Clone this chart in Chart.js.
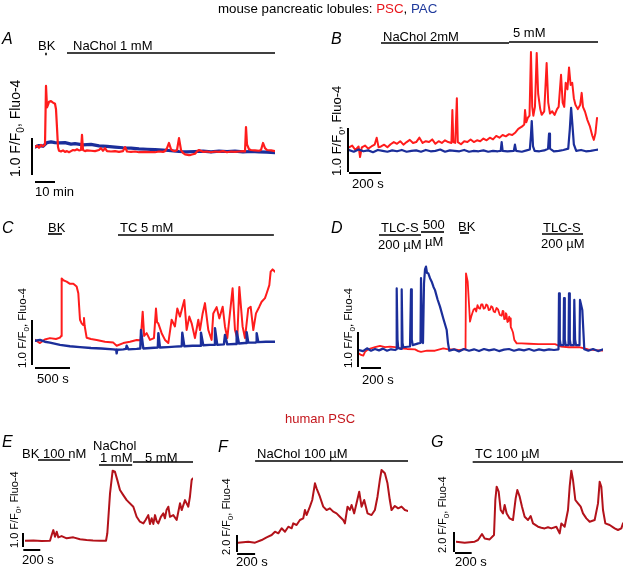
<!DOCTYPE html>
<html>
<head>
<meta charset="utf-8">
<title>PSC / PAC Ca2+ traces</title>
<script src="https://cdn.jsdelivr.net/npm/chart.js@4.4.1/dist/chart.umd.min.js"></script>
<style>
  html, body { margin: 0; padding: 0; background: #fff; }
  #fig { position: relative; width: 633px; height: 575px; }
  #fig canvas { position: absolute; left: 0; top: 0; }
</style>
</head>
<body>
<div id="fig"></div>
<script>
// ---- data: time (A in min, others in s) and F/F0 values ----

// A: NaChol 1 mM, mouse lobule
const aPscT = [0,1,2,3,4,5,5.5,6,6.5,7,8,9,10,10.5,11,11.5,12,13,14,15,16,17,18,19,20,21,22,23,23.5,24,25,26,28,30,32,33,34,35,36,38,40,42,44,45,46,48,50,52,55,58,60,62,64,65,66,67,68,69,70,71,72,73,74,75,77,78,80,81,82,84,86,88,90,92,94,96,98,100,102,104,105,105.5,106,107,108,110,112,113,114,115,116,118,120];
const aPsc  = [1.08,1.12,1.06,1.14,1.1,1.15,2.73,2.15,2.22,2.3,2.32,2.28,2.25,2.1,1.6,1.08,0.98,0.96,0.99,0.95,0.97,0.94,0.97,1.0,0.99,1.02,0.99,1.0,1.41,1.0,0.97,0.99,0.98,0.97,1.0,1.05,0.98,1.05,0.97,0.96,0.97,0.95,0.97,1.08,0.96,0.95,0.96,0.94,0.95,0.94,0.94,0.96,0.95,0.97,1.05,1.19,1.02,0.98,0.97,1.0,1.32,1.0,0.92,0.88,0.86,0.87,0.9,0.96,1.0,0.95,0.96,0.94,0.96,0.95,0.97,0.94,0.96,0.95,0.96,0.97,0.96,1.62,1.15,1.02,1.0,0.99,0.98,1.0,1.19,1.05,1.0,0.99,0.97];
const aPacT = [0,2,4,6,8,10,12,15,18,20,24,28,32,36,40,44,48,52,56,60,64,68,72,76,80,84,88,92,96,100,104,108,112,116,120];
const aPac  = [1.08,1.12,1.1,1.2,1.22,1.2,1.19,1.2,1.16,1.17,1.14,1.15,1.11,1.1,1.08,1.06,1.05,1.03,1.02,1.01,1.0,0.98,0.96,0.95,0.96,0.97,0.95,0.97,0.96,0.97,0.95,0.96,0.95,0.94,0.93];

// B: NaChol 2 mM then 5 mM
const bPscT = [0,20,40,60,69,80,100,120,140,160,173,185,200,220,240,260,280,300,320,340,360,380,400,420,440,460,480,500,520,540,560,580,600,620,640,646,652,664,674,680,700,720,740,760,780,800,820,840,860,880,900,920,940,960,980,1000,1020,1040,1058,1080,1095,1100,1108,1117,1128,1137,1145,1152,1162,1173,1182,1195,1204,1220,1235,1245,1256,1270,1285,1300,1310,1325,1335,1345,1354,1365,1375,1385,1395,1405,1415,1430,1445,1454,1462,1475,1490,1506,1520,1530,1540,1550];
const bPsc  = [1.08,1.12,1.02,1.1,0.86,1.08,1.12,1.05,1.1,1.14,1.3,1.08,1.1,1.14,1.08,1.15,1.2,1.16,1.22,1.14,1.2,1.25,1.18,1.2,1.3,1.18,1.22,1.2,1.26,1.16,1.22,1.18,1.24,1.2,1.18,1.93,1.2,1.18,2.2,1.2,1.15,1.22,1.2,1.26,1.2,1.24,1.22,1.28,1.24,1.3,1.26,1.34,1.3,1.36,1.33,1.38,1.36,1.42,1.5,1.55,1.6,1.93,1.65,1.75,1.8,3.25,2.0,1.8,2.0,3.23,2.3,1.95,1.82,1.9,3.0,2.1,1.85,1.9,1.82,1.95,2.0,2.73,2.1,2.0,2.55,2.4,2.9,2.5,2.55,2.2,2.05,1.95,2.05,2.32,2.0,1.89,1.7,1.55,1.35,1.25,1.4,1.75];
const bPacT = [0,30,60,90,120,150,180,210,240,270,300,330,360,390,420,450,480,510,540,570,600,630,660,690,720,750,780,810,840,870,900,930,948,954,960,990,1030,1037,1044,1080,1110,1130,1137,1142,1150,1160,1190,1220,1244,1250,1256,1280,1310,1340,1370,1380,1388,1396,1405,1420,1450,1480,1510,1540,1556];
const bPac  = [1.02,0.98,1.03,0.99,1.01,0.97,1.02,1.0,0.98,1.01,0.99,1.02,0.98,1.0,1.01,0.98,1.02,0.99,1.0,1.03,0.98,1.01,1.0,0.99,1.02,0.98,1.0,0.99,1.01,0.98,1.0,0.99,1.0,1.2,1.0,0.99,1.0,1.14,1.0,0.98,1.01,1.03,1.35,1.68,1.1,1.0,0.99,1.01,1.05,1.39,1.05,0.99,1.0,1.02,1.05,1.5,1.98,1.6,1.15,1.0,1.02,0.99,1.0,1.02,1.03];

// C: BK then TC 5 mM
const cPscT = [0,71,140,214,300,357,375,381,405,452,500,548,595,619,643,667,690,700,710,738,800,881,1000,1119,1167,1262,1357,1453,1510,1539,1560,1596,1643,1700,1729,1745,1762,1810,1858,1905,1953,2000,2034,2072,2134,2167,2205,2239,2286,2334,2358,2396,2429,2477,2524,2548,2596,2634,2682,2715,2748,2786,2824,2858,2891,2920,2967,3001,3048,3082,3120,3158,3206,3239,3287,3311,3349,3368,3396,3430];
const cPsc  = [1.11,1.04,1.12,1.15,1.13,1.16,1.2,2.48,2.44,2.41,2.36,2.36,2.3,2.15,1.56,1.48,1.44,1.6,1.42,1.16,1.13,1.11,1.07,1.05,0.98,1.04,1.07,1.11,1.1,1.74,1.2,1.26,1.11,1.15,1.81,1.5,1.48,1.26,1.11,1.04,1.56,1.41,1.81,1.63,2.0,1.33,1.63,1.48,1.15,1.56,1.33,1.7,1.93,1.33,1.11,1.7,1.84,1.59,1.85,1.41,1.15,1.7,2.26,1.33,1.15,2.29,1.41,1.15,1.81,1.85,1.33,1.7,1.85,1.96,2.04,2.15,2.33,2.63,2.68,2.63];
const cPacT = [0,71,140,214,357,500,643,800,950,1119,1160,1167,1175,1262,1300,1310,1334,1453,1505,1515,1548,1650,1755,1763,1786,1900,2000,2097,2105,2134,2250,2364,2372,2405,2500,2565,2572,2605,2700,2715,2748,2850,2875,2882,2915,3000,3020,3025,3048,3150,3165,3168,3192,3300,3430];
const cPac  = [1.09,1.11,1.07,1.05,1.0,0.97,0.95,0.93,0.92,0.9,0.89,0.81,0.89,0.9,0.91,0.98,0.9,0.91,0.92,1.33,0.92,0.93,0.94,1.26,0.94,0.95,0.96,0.97,1.27,0.97,0.98,0.98,1.27,0.99,1.0,1.0,1.37,1.0,1.01,1.22,1.01,1.02,1.02,1.3,1.03,1.04,1.04,1.28,1.05,1.05,1.06,1.26,1.06,1.07,1.07];

// D: TLC-S, BK, TLC-S
const dPacT = [0,40,80,120,160,200,240,280,320,360,372,377,385,393,420,427,435,443,510,520,528,537,593,615,620,630,640,650,660,670,680,693,710,727,745,760,785,810,843,877,890,903,950,1000,1050,1100,1150,1200,1250,1300,1350,1400,1450,1500,1550,1600,1650,1700,1750,1800,1850,1900,1950,1995,2000,2008,2017,2045,2050,2058,2067,2095,2100,2108,2117,2148,2153,2161,2170,2205,2210,2233,2253,2293,2340,2390,2443];
const dPac  = [1.0,0.97,1.05,0.98,1.03,0.99,1.04,0.98,1.02,1.0,1.02,2.76,1.3,1.05,1.03,2.73,1.2,1.08,1.1,2.73,1.3,1.14,1.19,1.2,3.05,1.25,1.2,2.9,3.3,3.38,3.2,3.19,3.05,2.95,2.8,2.71,2.45,2.24,1.9,1.57,1.2,0.98,1.02,0.96,1.03,0.98,1.02,0.97,1.03,0.99,1.02,0.97,1.01,1.03,0.98,1.02,0.99,1.03,0.98,1.02,0.99,1.02,1.0,1.02,2.62,1.3,1.14,1.14,2.48,1.3,1.14,1.14,2.62,1.3,1.14,1.14,2.43,1.3,1.14,1.14,2.43,2.14,1.02,0.98,1.03,0.97,1.02];
const dPscT = [0,20,43,60,93,120,160,210,260,310,360,420,480,560,593,620,680,760,843,893,960,1000,1040,1065,1070,1087,1110,1122,1133,1145,1160,1172,1185,1197,1210,1222,1235,1247,1260,1272,1285,1297,1310,1322,1335,1347,1360,1375,1390,1408,1427,1437,1445,1452,1460,1468,1475,1484,1493,1502,1510,1518,1527,1540,1553,1577,1627,1700,1793,1880,1960,2017,2100,2200,2293,2360,2443];
const dPsc  = [0.9,0.86,0.84,0.95,1.02,1.05,1.08,1.12,1.08,1.1,1.08,1.05,1.03,1.02,0.97,0.95,0.98,0.98,1.05,1.02,1.02,1.0,1.02,1.02,3.19,2.95,1.81,1.95,2.05,2.15,2.19,2.1,2.28,2.2,2.18,2.3,2.3,2.18,2.2,2.3,2.27,2.14,2.15,2.25,2.22,2.1,2.08,2.2,2.16,2.0,1.98,2.12,2.1,1.88,1.9,2.05,2.02,1.8,1.82,1.95,1.9,1.65,1.6,1.5,1.29,1.19,1.19,1.18,1.17,1.17,1.17,1.1,1.08,1.08,1.02,1.0,0.98];

// E-G: human PSC
const eT = [0,98,196,294,314,333,353,373,392,431,490,568,647,725,800,882,953,968,1000,1031,1058,1086,1117,1156,1196,1274,1313,1352,1392,1420,1450,1470,1490,1510,1529,1548,1568,1598,1627,1646,1665,1686,1705,1744,1784,1823,1843,1882,1901,1921,1940,1960,1972];
const eV = [1.0,1.02,0.98,1.0,1.41,1.76,1.29,1.64,1.24,1.33,1.17,1.24,1.1,1.05,1.02,1.0,1.0,1.52,4.38,6.0,5.93,5.33,4.62,4.26,3.9,3.43,2.71,2.36,2.24,2.5,2.83,2.19,2.6,2.2,2.83,2.4,2.24,2.7,2.95,2.6,3.2,3.43,2.71,2.83,2.48,3.67,3.19,3.9,3.67,3.43,4.14,5.33,5.45];
const fT = [0,114,189,263,318,374,411,448,485,522,559,596,614,651,688,725,744,762,799,825,855,873,910,947,984,1021,1058,1095,1132,1169,1188,1217,1243,1262,1291,1317,1347,1373,1402,1439,1484,1521,1550,1576,1595,1632,1661,1687,1706,1743,1780,1817,1854,1891];
const fV = [1.0,1.12,1.0,1.31,1.63,1.9,2.29,2.1,2.69,2.29,2.88,2.69,3.27,3.08,3.67,3.86,4.84,4.25,5.24,6.02,7.98,7.39,6.41,5.24,4.84,5.04,4.65,4.45,4.06,3.67,3.27,5.24,4.84,5.43,4.45,5.63,7.0,5.24,6.02,4.45,4.25,4.84,6.41,8.37,9.55,9.16,7.98,6.02,4.84,5.32,5.04,5.24,4.84,4.73];
const gT = [0,104,224,264,312,344,404,456,472,488,512,536,564,584,608,644,684,716,736,764,792,824,864,896,924,984,1024,1064,1104,1144,1204,1244,1264,1304,1344,1364,1384,1404,1432,1464,1496,1524,1564,1604,1664,1704,1724,1744,1764,1792,1844,1904,1944,1984,2004];
const gV = [1.1,1.0,1.1,1.27,1.87,1.43,1.33,1.77,5.27,6.6,6.1,4.27,3.93,4.77,3.93,3.43,3.27,5.43,6.27,5.6,4.6,3.6,3.27,3.67,2.93,2.6,2.5,2.43,2.55,2.43,2.6,1.93,2.93,2.6,4.27,6.6,8.2,7.27,5.27,4.93,4.6,3.93,3.43,3.1,3.27,4.93,7.1,6.6,4.27,2.93,2.77,2.43,2.27,2.43,2.93];

// ---- styling ----
const W = 633, H = 575;
const FONT = '"Liberation Sans", Arial, Helvetica, sans-serif';
const PSC_RED = '#ff1c1c';
const PAC_BLUE = '#1b2e9a';
const HUMAN_RED = '#b3121a';

// draws treatment bars, scale bars and all the panel text on top of the traces
const marksPlugin = {
  id: 'panelMarks',
  afterDraw(chart, args, opts) {
    const ctx = chart.ctx;
    const xs = chart.scales.x, ys = chart.scales.y;
    ctx.save();
    ctx.strokeStyle = '#000';
    ctx.fillStyle = '#000';
    ctx.lineCap = 'butt';

    (opts.bars || []).forEach(b => {
      ctx.lineWidth = b.w || 1.6;
      ctx.beginPath();
      ctx.moveTo(xs.getPixelForValue(b.from), b.y);
      ctx.lineTo(xs.getPixelForValue(b.to), b.y);
      ctx.stroke();
    });

    const sb = opts.scaleBar;
    if (sb) {
      ctx.lineWidth = 2;
      const h = ys.getPixelForValue(0) - ys.getPixelForValue(sb.ySpan);
      ctx.beginPath();
      ctx.moveTo(sb.vx, sb.vBottom);
      ctx.lineTo(sb.vx, sb.vBottom - h);
      ctx.stroke();
      ctx.beginPath();
      ctx.moveTo(xs.getPixelForValue(sb.tFrom), sb.hy);
      ctx.lineTo(xs.getPixelForValue(sb.tFrom + sb.tSpan), sb.hy);
      ctx.stroke();
    }

    (opts.texts || []).forEach(t => {
      ctx.font = (t.italic ? 'italic ' : '') + (t.size || 13) + 'px ' + FONT;
      if (t.runs) {
        let x = t.x;
        t.runs.forEach(([s, c]) => {
          ctx.fillStyle = c;
          ctx.fillText(s, x, t.y);
          x += ctx.measureText(s).width;
        });
      } else {
        ctx.fillStyle = t.color || '#000';
        ctx.fillText(t.text, t.x, t.y);
      }
    });

    const yl = opts.yLabel;
    if (yl) {
      ctx.fillStyle = '#000';
      ctx.translate(yl.x, yl.y);
      ctx.rotate(-Math.PI / 2);
      ctx.font = yl.size + 'px ' + FONT;
      const head = yl.span + ' F/F';
      ctx.fillText(head, 0, 0);
      let w = ctx.measureText(head).width;
      ctx.font = Math.round(yl.size * 0.72) + 'px ' + FONT;
      ctx.fillText('0', w, yl.size * 0.3);
      w += ctx.measureText('0').width;
      ctx.font = yl.size + 'px ' + FONT;
      ctx.fillText(', Fluo-4', w, 0);
    }
    ctx.restore();
  }
};

function pts(t, v) {
  return t.map((x, i) => ({ x: x, y: v[i] }));
}

function makePanel(p) {
  const canvas = document.createElement('canvas');
  canvas.width = W;
  canvas.height = H;
  document.getElementById('fig').appendChild(canvas);
  new Chart(canvas, {
    type: 'line',
    data: {
      datasets: p.series.map(s => ({
        data: pts(s.t, s.v),
        borderColor: s.color,
        borderWidth: s.width,
        borderJoinStyle: 'round',
        borderCapStyle: 'round',
        pointRadius: 0,
        tension: 0,
        fill: false
      }))
    },
    options: {
      responsive: false,
      animation: false,
      events: [],
      layout: { padding: { left: p.area[0], top: p.area[1], right: W - p.area[2], bottom: H - p.area[3] } },
      scales: {
        x: { type: 'linear', display: false, min: 0, max: p.xMax },
        y: { type: 'linear', display: false, min: p.yMin, max: p.yMax }
      },
      plugins: { legend: { display: false }, tooltip: { enabled: false }, panelMarks: p.marks }
    },
    plugins: [marksPlugin]
  });
}

// A (first dataset is drawn on top)
makePanel({
  area: [35, 80, 275, 180], xMax: 120, yMin: 0.19, yMax: 2.89,
  series: [
    { t: aPscT, v: aPsc, color: PSC_RED, width: 2.2 },
    { t: aPacT, v: aPac, color: PAC_BLUE, width: 3.2 }
  ],
  marks: {
    bars: [{ from: 5.1, to: 5.9, y: 54, w: 2.5 }, { from: 16, to: 120, y: 53 }],
    scaleBar: { vx: 32, vBottom: 175, ySpan: 1, tFrom: 0, tSpan: 10, hy: 182 },
    texts: [
      { runs: [['mouse pancreatic lobules: ', '#000'], ['PSC', '#e8161c'], [', ', '#000'], ['PAC', '#1f3a9c']], x: 218, y: 13, size: 13.3 },
      { text: 'A', x: 2, y: 44, size: 16, italic: true },
      { text: 'BK', x: 38, y: 50 },
      { text: 'NaChol 1 mM', x: 73, y: 50 },
      { text: '10 min', x: 35, y: 196 }
    ],
    yLabel: { x: 20, y: 177, size: 14, span: '1.0' }
  }
});

// B
makePanel({
  area: [349, 45, 598, 175], xMax: 1556, yMin: 0.45, yMax: 3.41,
  series: [
    { t: bPacT, v: bPac, color: PAC_BLUE, width: 2.2 },
    { t: bPscT, v: bPsc, color: PSC_RED, width: 2 }
  ],
  marks: {
    bars: [{ from: 200, to: 1000, y: 43 }, { from: 1000, to: 1556, y: 42 }],
    scaleBar: { vx: 348, vBottom: 172, ySpan: 1, tFrom: 0, tSpan: 200, hy: 173 },
    texts: [
      { text: 'B', x: 331, y: 44, size: 16, italic: true },
      { text: 'NaChol 2mM', x: 383, y: 41 },
      { text: '5 mM', x: 513, y: 37 },
      { text: '200 s', x: 352, y: 188 }
    ],
    yLabel: { x: 341, y: 176, size: 13, span: '1.0' }
  }
});

// C
makePanel({
  area: [35, 260, 275, 370], xMax: 3430, yMin: 0.44, yMax: 2.89,
  series: [
    { t: cPacT, v: cPac, color: PAC_BLUE, width: 2.4 },
    { t: cPscT, v: cPsc, color: PSC_RED, width: 2 }
  ],
  marks: {
    bars: [{ from: 186, to: 386, y: 234 }, { from: 1186, to: 3414, y: 235 }],
    scaleBar: { vx: 32, vBottom: 365, ySpan: 1, tFrom: 0, tSpan: 500, hy: 368 },
    texts: [
      { text: 'C', x: 2, y: 233, size: 16, italic: true },
      { text: 'BK', x: 48, y: 232 },
      { text: 'TC 5 mM', x: 120, y: 232 },
      { text: '500 s', x: 37, y: 383 }
    ],
    yLabel: { x: 26, y: 368, size: 11.5, span: '1.0' }
  }
});

// D
makePanel({
  area: [359, 260, 603, 370], xMax: 2440, yMin: 0.43, yMax: 3.57,
  series: [
    { t: dPacT, v: dPac, color: PAC_BLUE, width: 2.2 },
    { t: dPscT, v: dPsc, color: PSC_RED, width: 1.8 }
  ],
  marks: {
    bars: [
      { from: 200, to: 620, y: 235 }, { from: 620, to: 850, y: 232 },
      { from: 1010, to: 1100, y: 233 }, { from: 1830, to: 2240, y: 234 }
    ],
    scaleBar: { vx: 358, vBottom: 367, ySpan: 1, tFrom: 20, tSpan: 200, hy: 368 },
    texts: [
      { text: 'D', x: 331, y: 233, size: 16, italic: true },
      { text: 'TLC-S', x: 381, y: 232 },
      { text: '200 µM', x: 378, y: 249 },
      { text: '500', x: 423, y: 229 },
      { text: 'µM', x: 425, y: 246 },
      { text: 'BK', x: 458, y: 231 },
      { text: 'TLC-S', x: 543, y: 232 },
      { text: '200 µM', x: 541, y: 248 },
      { text: '200 s', x: 362, y: 384 }
    ],
    yLabel: { x: 352, y: 368, size: 11.5, span: '1.0' }
  }
});

// E
makePanel({
  area: [25, 465, 193, 555], xMax: 1976, yMin: -0.02, yMax: 6.41,
  series: [{ t: eT, v: eV, color: HUMAN_RED, width: 2 }],
  marks: {
    bars: [{ from: 153, to: 530, y: 460 }, { from: 870, to: 1260, y: 465 }, { from: 1270, to: 1976, y: 462 }],
    scaleBar: { vx: 23, vBottom: 547, ySpan: 1, tFrom: -20, tSpan: 200, hy: 550 },
    texts: [
      { text: 'E', x: 2, y: 447, size: 16, italic: true },
      { text: 'BK', x: 22, y: 458 },
      { text: '100 nM', x: 43, y: 458 },
      { text: 'NaChol', x: 93, y: 450 },
      { text: '1 mM', x: 100, y: 462 },
      { text: '5 mM', x: 145, y: 462 },
      { text: '200 s', x: 22, y: 564 }
    ],
    yLabel: { x: 18, y: 548, size: 11, span: '1.0' }
  }
});

// F
makePanel({
  area: [238, 465, 408, 555], xMax: 1889, yMin: -0.45, yMax: 10.14,
  series: [{ t: fT, v: fV, color: HUMAN_RED, width: 2 }],
  marks: {
    bars: [{ from: 190, to: 1889, y: 461 }],
    scaleBar: { vx: 237, vBottom: 552, ySpan: 2, tFrom: -10, tSpan: 200, hy: 554 },
    texts: [
      { text: 'human PSC', x: 285, y: 423, color: '#c4161c' },
      { text: 'F', x: 218, y: 452, size: 16, italic: true },
      { text: 'NaChol 100 µM', x: 257, y: 458 },
      { text: '200 s', x: 236, y: 566 }
    ],
    yLabel: { x: 230, y: 555, size: 11, span: '2.0' }
  }
});

// G
makePanel({
  area: [456, 465, 623, 555], xMax: 2004, yMin: -0.23, yMax: 8.77,
  series: [{ t: gT, v: gV, color: HUMAN_RED, width: 2 }],
  marks: {
    bars: [{ from: 200, to: 2004, y: 462 }],
    scaleBar: { vx: 454, vBottom: 552, ySpan: 2, tFrom: -12, tSpan: 200, hy: 553 },
    texts: [
      { text: 'G', x: 431, y: 447, size: 16, italic: true },
      { text: 'TC 100 µM', x: 475, y: 458 },
      { text: '200 s', x: 455, y: 566 }
    ],
    yLabel: { x: 446, y: 553, size: 11, span: '2.0' }
  }
});
</script>
</body>
</html>
